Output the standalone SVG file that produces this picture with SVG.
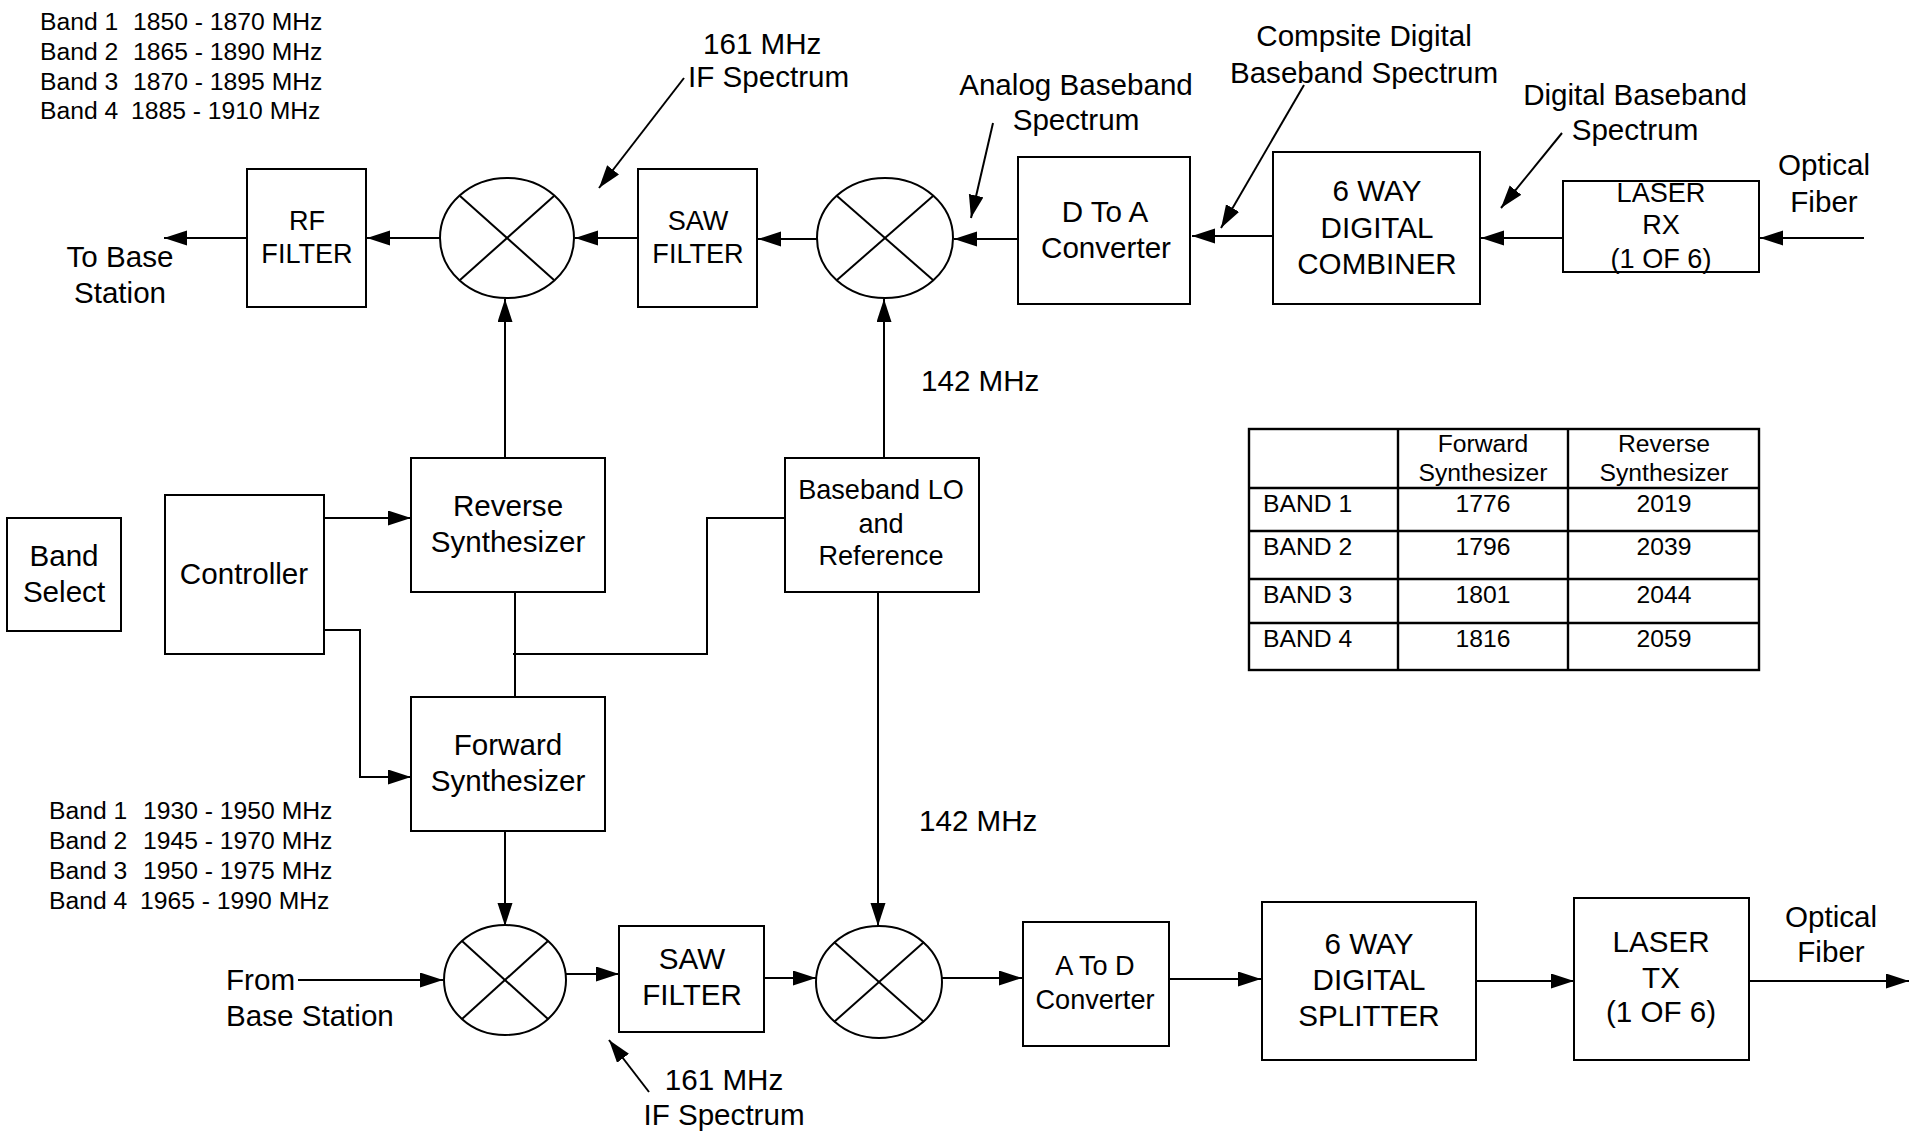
<svg xmlns="http://www.w3.org/2000/svg" width="1923" height="1143" viewBox="0 0 1923 1143">
<style>
text{font-family:"Liberation Sans",Arial,sans-serif;fill:#000}
.f30{font-size:29.6px}
.f27{font-size:27.1px}
.f25{font-size:24.7px}
.c{text-anchor:middle}
.box{fill:#fff;stroke:#000;stroke-width:2}
.mix{fill:#fff;stroke:#000;stroke-width:2}
.x{stroke:#000;stroke-width:2}
.w{fill:none;stroke:#000;stroke-width:2}
.a{fill:none;stroke:#000;stroke-width:2;marker-end:url(#ah)}
.tl{fill:none;stroke:#000;stroke-width:2.4}
</style>
<defs>
<marker id="ah" markerUnits="userSpaceOnUse" markerWidth="24" markerHeight="16" refX="23" refY="7.5" orient="auto">
<path d="M0,0 L23,7.5 L0,15 z" fill="#000"/>
</marker>
</defs>
<rect width="1923" height="1143" fill="#fff"/>

<g id="connectors">
<line class="a" x1="440" y1="238" x2="367" y2="238"/>
<line class="a" x1="247" y1="238" x2="164" y2="238"/>
<line class="a" x1="638" y1="238" x2="575" y2="238"/>
<line class="a" x1="817" y1="239" x2="758" y2="239"/>
<line class="a" x1="1018" y1="239" x2="954" y2="239"/>
<line class="a" x1="1273" y1="236" x2="1192" y2="236"/>
<line class="a" x1="1563" y1="238" x2="1481" y2="238"/>
<line class="a" x1="1864" y1="238" x2="1760" y2="238"/>
<line class="a" x1="505" y1="458" x2="505" y2="299"/>
<line class="a" x1="884" y1="458" x2="884" y2="299"/>
<line class="a" x1="324" y1="518" x2="411" y2="518"/>
<polyline class="a" points="324,630 360,630 360,777 411,777"/>
<line class="w" x1="515" y1="592" x2="515" y2="697"/>
<polyline class="w" points="513,654 707,654 707,518 785,518"/>
<line class="a" x1="505" y1="831" x2="505" y2="926"/>
<line class="a" x1="878" y1="592" x2="878" y2="926"/>
<line class="a" x1="298" y1="980" x2="443" y2="980"/>
<line class="a" x1="566" y1="974" x2="619" y2="974"/>
<line class="a" x1="764" y1="978" x2="816" y2="978"/>
<line class="a" x1="942" y1="978" x2="1022" y2="978"/>
<line class="a" x1="1169" y1="979" x2="1261" y2="979"/>
<line class="a" x1="1474" y1="981" x2="1574" y2="981"/>
<line class="a" x1="1744" y1="981" x2="1909" y2="981"/>
<line class="a" x1="684" y1="78" x2="599" y2="188"/>
<line class="a" x1="993" y1="123" x2="971" y2="218"/>
<line class="a" x1="1304" y1="85" x2="1221" y2="228"/>
<line class="a" x1="1562" y1="133" x2="1501" y2="208"/>
<line class="a" x1="649" y1="1092" x2="609" y2="1040"/>
</g>

<g id="rf_filter"><rect class="box" x="247" y="169" width="119" height="138"/>
<text class="f27 c" x="307" y="230">RF</text><text class="f27 c" x="307" y="263">FILTER</text></g>

<g id="mixer1"><ellipse class="mix" cx="507" cy="238" rx="67" ry="60"/>
<line class="x" x1="460" y1="196" x2="554" y2="280"/><line class="x" x1="460" y1="280" x2="554" y2="196"/></g>

<g id="saw_filter_top"><rect class="box" x="638" y="169" width="119" height="138"/>
<text class="f27 c" x="698" y="230">SAW</text><text class="f27 c" x="698" y="263">FILTER</text></g>

<g id="mixer2"><ellipse class="mix" cx="885" cy="238" rx="68" ry="60"/>
<line class="x" x1="837" y1="196" x2="933" y2="280"/><line class="x" x1="837" y1="280" x2="933" y2="196"/></g>

<g id="d_to_a"><rect class="box" x="1018" y="157" width="172" height="147"/>
<text class="f30 c" x="1105" y="222">D To A</text><text class="f30 c" x="1106" y="258">Converter</text></g>

<g id="combiner"><rect class="box" x="1273" y="152" width="207" height="152"/>
<text class="f30 c" x="1377" y="201">6 WAY</text><text class="f30 c" x="1377" y="238">DIGITAL</text><text class="f30 c" x="1377" y="274">COMBINER</text></g>

<g id="laser_rx"><rect class="box" x="1563" y="181" width="196" height="91"/>
<text class="f27 c" x="1661" y="202">LASER</text><text class="f27 c" x="1661" y="234">RX</text><text class="f27 c" x="1661" y="268">(1 OF 6)</text></g>

<g id="band_select"><rect class="box" x="7" y="518" width="114" height="113"/>
<text class="f30 c" x="64" y="566">Band</text><text class="f30 c" x="64" y="602">Select</text></g>

<g id="controller"><rect class="box" x="165" y="495" width="159" height="159"/>
<text class="f30 c" x="244" y="584">Controller</text></g>

<g id="reverse_synth"><rect class="box" x="411" y="458" width="194" height="134"/>
<text class="f30 c" x="508" y="516">Reverse</text><text class="f30 c" x="508" y="552">Synthesizer</text></g>

<g id="forward_synth"><rect class="box" x="411" y="697" width="194" height="134"/>
<text class="f30 c" x="508" y="755">Forward</text><text class="f30 c" x="508" y="791">Synthesizer</text></g>

<g id="baseband_lo"><rect class="box" x="785" y="458" width="194" height="134"/>
<text class="f27 c" x="881" y="499">Baseband LO</text><text class="f27 c" x="881" y="533">and</text><text class="f27 c" x="881" y="565">Reference</text></g>

<g id="mixer3"><ellipse class="mix" cx="505" cy="980" rx="61" ry="55"/>
<line class="x" x1="462" y1="941" x2="548" y2="1019"/><line class="x" x1="462" y1="1019" x2="548" y2="941"/></g>

<g id="saw_filter_bottom"><rect class="box" x="619" y="926" width="145" height="106"/>
<text class="f30 c" x="692" y="969">SAW</text><text class="f30 c" x="692" y="1005">FILTER</text></g>

<g id="mixer4"><ellipse class="mix" cx="879" cy="982" rx="63" ry="56"/>
<line class="x" x1="834" y1="942" x2="924" y2="1022"/><line class="x" x1="834" y1="1022" x2="924" y2="942"/></g>

<g id="a_to_d"><rect class="box" x="1023" y="922" width="146" height="124"/>
<text class="f27 c" x="1095" y="975">A To D</text><text class="f27 c" x="1095" y="1009">Converter</text></g>

<g id="splitter"><rect class="box" x="1262" y="902" width="214" height="158"/>
<text class="f30 c" x="1369" y="954">6 WAY</text><text class="f30 c" x="1369" y="990">DIGITAL</text><text class="f30 c" x="1369" y="1026">SPLITTER</text></g>

<g id="laser_tx"><rect class="box" x="1574" y="898" width="175" height="162"/>
<text class="f30 c" x="1661" y="952">LASER</text><text class="f30 c" x="1661" y="988">TX</text><text class="f30 c" x="1661" y="1022">(1 OF 6)</text></g>

<g id="labels">
<text class="f25" x="40" y="30">Band 1<tspan x="133">1850 - 1870 MHz</tspan></text>
<text class="f25" x="40" y="60">Band 2<tspan x="133">1865 - 1890 MHz</tspan></text>
<text class="f25" x="40" y="90">Band 3<tspan x="133">1870 - 1895 MHz</tspan></text>
<text class="f25" x="40" y="119">Band 4<tspan x="131">1885 - 1910 MHz</tspan></text>
<text class="f25" x="49" y="819">Band 1<tspan x="143">1930 - 1950 MHz</tspan></text>
<text class="f25" x="49" y="849">Band 2<tspan x="143">1945 - 1970 MHz</tspan></text>
<text class="f25" x="49" y="879">Band 3<tspan x="143">1950 - 1975 MHz</tspan></text>
<text class="f25" x="49" y="909">Band 4<tspan x="140">1965 - 1990 MHz</tspan></text>
<text class="f30 c" x="120" y="267">To Base</text><text class="f30 c" x="120" y="303">Station</text>
<text class="f30" x="703" y="54">161 MHz</text><text class="f30" x="688" y="87">IF Spectrum</text>
<text class="f30 c" x="1076" y="95">Analog Baseband</text><text class="f30 c" x="1076" y="130">Spectrum</text>
<text class="f30 c" x="1364" y="46">Compsite Digital</text><text class="f30 c" x="1364" y="83">Baseband Spectrum</text>
<text class="f30 c" x="1635" y="105">Digital Baseband</text><text class="f30 c" x="1635" y="140">Spectrum</text>
<text class="f30 c" x="1824" y="175">Optical</text><text class="f30 c" x="1824" y="212">Fiber</text>
<text class="f30" x="921" y="391">142 MHz</text>
<text class="f30" x="919" y="831">142 MHz</text>
<text class="f30" x="226" y="990">From</text><text class="f30" x="226" y="1026">Base Station</text>
<text class="f30 c" x="724" y="1090">161 MHz</text><text class="f30 c" x="724" y="1125">IF Spectrum</text>
<text class="f30 c" x="1831" y="927">Optical</text><text class="f30 c" x="1831" y="962">Fiber</text>
</g>

<g id="table">
<rect class="tl" x="1249" y="429" width="510" height="241"/>
<line class="tl" x1="1398" y1="429" x2="1398" y2="670"/>
<line class="tl" x1="1568" y1="429" x2="1568" y2="670"/>
<line class="tl" x1="1249" y1="488" x2="1759" y2="488"/>
<line class="tl" x1="1249" y1="531" x2="1759" y2="531"/>
<line class="tl" x1="1249" y1="579" x2="1759" y2="579"/>
<line class="tl" x1="1249" y1="623" x2="1759" y2="623"/>
<text class="f25 c" x="1483" y="452">Forward</text><text class="f25 c" x="1483" y="481">Synthesizer</text>
<text class="f25 c" x="1664" y="452">Reverse</text><text class="f25 c" x="1664" y="481">Synthesizer</text>
<text class="f25" x="1263" y="512">BAND 1</text><text class="f25 c" x="1483" y="512">1776</text><text class="f25 c" x="1664" y="512">2019</text>
<text class="f25" x="1263" y="555">BAND 2</text><text class="f25 c" x="1483" y="555">1796</text><text class="f25 c" x="1664" y="555">2039</text>
<text class="f25" x="1263" y="603">BAND 3</text><text class="f25 c" x="1483" y="603">1801</text><text class="f25 c" x="1664" y="603">2044</text>
<text class="f25" x="1263" y="647">BAND 4</text><text class="f25 c" x="1483" y="647">1816</text><text class="f25 c" x="1664" y="647">2059</text>
</g>
</svg>
